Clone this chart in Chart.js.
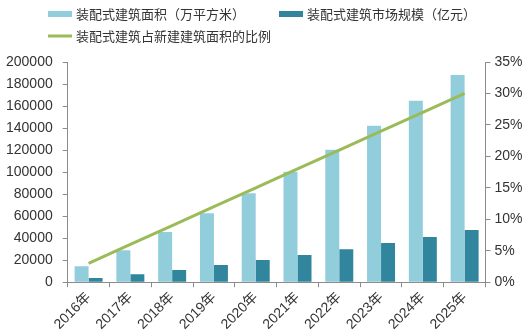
<!DOCTYPE html>
<html>
<head>
<meta charset="utf-8">
<script src="https://cdn.jsdelivr.net/npm/chart.js@4/dist/chart.umd.min.js"></script>
<style>
  html, body { margin: 0; padding: 0; background: #ffffff; }
  #wrap { width: 524px; height: 335px; position: relative; }
</style>
</head>
<body>
<div id="wrap"><canvas id="c" width="524" height="335"></canvas></div>
<script>
const categories = ['2016年', '2017年', '2018年', '2019年', '2020年', '2021年', '2022年', '2023年', '2024年', '2025年'];
const seriesNames = ['装配式建筑面积（万平方米）', '装配式建筑市场规模（亿元）', '装配式建筑占新建建筑面积的比例'];
const areaValues = [14500, 29000, 45500, 62700, 80800, 100400, 120400, 142000, 164700, 188200];
const marketValues = [3900, 7200, 11100, 15700, 20200, 24700, 29900, 35600, 41000, 47300];
const ratioValues = [3, 6, 9, 12, 15, 18, 21, 24, 27, 30];
const leftAxisMax = 200000, leftAxisStep = 20000;
const rightAxisMax = 35, rightAxisStep = 5;

const colors = { light: '#92CDDC', dark: '#31859C', green: '#9BBB59', axis: '#8c8c8c', text: '#333333' };
const tickFont = { size: 14, family: "'Liberation Sans', Arial, 'Noto Sans CJK SC', sans-serif" };

const legendPlugin = {
  id: 'customLegend',
  afterDraw(chart) {
    const ctx = chart.ctx;
    ctx.save();
    ctx.font = "13px 'Noto Sans CJK SC', sans-serif";
    ctx.fillStyle = colors.text;
    ctx.textBaseline = 'middle';
    ctx.textAlign = 'left';
    const items = [
      { x: 48, y: 14, type: 'box', color: colors.light, text: seriesNames[0] },
      { x: 279, y: 14, type: 'box', color: colors.dark, text: seriesNames[1] },
      { x: 48, y: 36, type: 'line', color: colors.green, text: seriesNames[2] }
    ];
    items.forEach(it => {
      if (it.type === 'box') {
        ctx.fillStyle = it.color;
        ctx.fillRect(it.x, it.y - 3, 24, 6);
      } else {
        ctx.strokeStyle = it.color;
        ctx.lineWidth = 3;
        ctx.beginPath();
        ctx.moveTo(it.x, it.y);
        ctx.lineTo(it.x + 24, it.y);
        ctx.stroke();
      }
      ctx.fillStyle = colors.text;
      ctx.fillText(it.text, it.x + 28, it.y);
    });
    ctx.restore();
  }
};

new Chart(document.getElementById('c'), {
  type: 'bar',
  data: {
    labels: categories,
    datasets: [
      {
        type: 'line', label: seriesNames[2], data: ratioValues, yAxisID: 'y1',
        borderColor: colors.green, backgroundColor: colors.green, borderWidth: 3,
        pointRadius: 0, tension: 0, order: 0
      },
      {
        label: seriesNames[0], data: areaValues, yAxisID: 'y', backgroundColor: colors.light,
        categoryPercentage: 0.67, barPercentage: 1.0, order: 1
      },
      {
        label: seriesNames[1], data: marketValues, yAxisID: 'y', backgroundColor: colors.dark,
        categoryPercentage: 0.67, barPercentage: 1.0, order: 1
      }
    ]
  },
  options: {
    responsive: false,
    animation: false,
    layout: { padding: { top: 62, left: 5, right: 1, bottom: 0 } },
    plugins: { legend: { display: false }, tooltip: { enabled: false } },
    scales: {
      x: {
        grid: { drawOnChartArea: false, drawTicks: true, tickLength: 5, color: colors.axis, offset: true },
        border: { display: true, color: colors.axis },
        ticks: { font: tickFont, color: colors.text, maxRotation: 45, minRotation: 45, autoSkip: false, padding: 2 }
      },
      y: {
        position: 'left', min: 0, max: leftAxisMax,
        afterFit: s => { s.width = 62.7; },
        grid: { drawOnChartArea: false, drawTicks: true, tickLength: 5, color: colors.axis },
        border: { display: true, color: colors.axis },
        ticks: { stepSize: leftAxisStep, font: tickFont, color: colors.text, padding: 10, callback: v => String(v) }
      },
      y1: {
        position: 'right', min: 0, max: rightAxisMax,
        afterFit: s => { s.width = 37.5; },
        grid: { drawOnChartArea: false, drawTicks: true, tickLength: 5, color: colors.axis },
        border: { display: true, color: colors.axis },
        ticks: { stepSize: rightAxisStep, font: tickFont, color: colors.text, padding: 4, callback: v => v + '%' }
      }
    }
  },
  plugins: [legendPlugin]
});
</script>
</body>
</html>
